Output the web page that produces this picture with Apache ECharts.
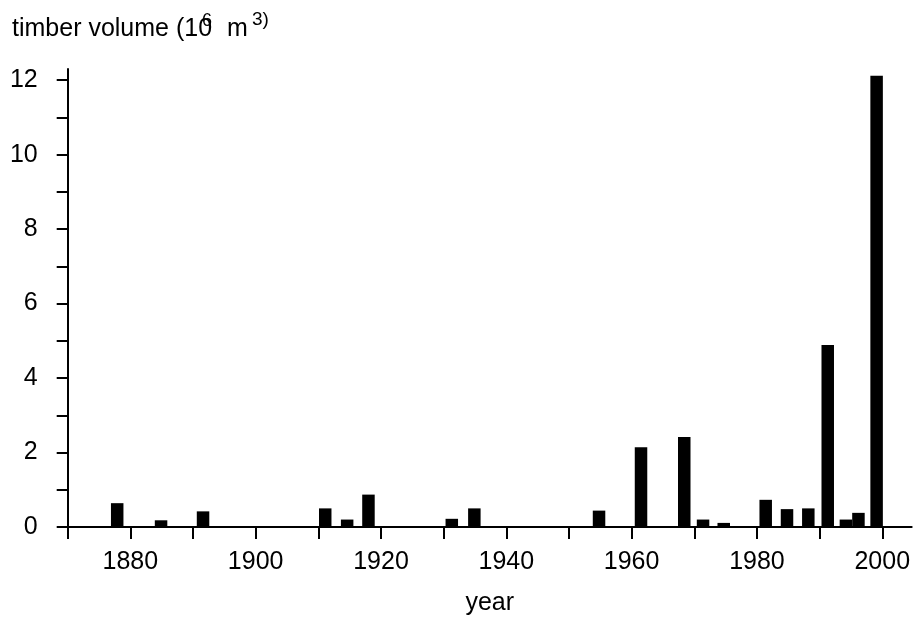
<!DOCTYPE html>
<html>
<head>
<meta charset="utf-8">
<script src="https://cdn.jsdelivr.net/npm/echarts@6/dist/echarts.min.js"></script>
<style>
  html, body { margin: 0; padding: 0; background: #fff; }
  #chart { width: 915px; height: 621px; }
</style>
</head>
<body>
<div id="chart"></div>
<script>
// Storm events: year (bar centre) and timber volume in million m³
const eventYears = [1877.9, 1884.9, 1891.6, 1911.1, 1914.6, 1918.0, 1931.3, 1934.9,
  1954.8, 1961.5, 1968.4, 1971.4, 1974.7, 1981.4, 1984.8, 1988.2, 1991.3, 1994.2, 1996.2, 1999.1];
const timberVolume = [0.64, 0.18, 0.42, 0.50, 0.20, 0.87, 0.22, 0.50,
  0.44, 2.14, 2.42, 0.20, 0.11, 0.73, 0.48, 0.50, 4.89, 0.20, 0.38, 12.12];

// Axis ticks and labels
const xTickValues = [1870, 1880, 1890, 1900, 1910, 1920, 1930, 1940, 1950, 1960, 1970, 1980, 1990, 2000];
const xLabelValues = [1880, 1900, 1920, 1940, 1960, 1980, 2000];
const yTickValues = [0, 1, 2, 3, 4, 5, 6, 7, 8, 9, 10, 11, 12];
const yLabelValues = [0, 2, 4, 6, 8, 10, 12];

const FONT = '"Liberation Sans", Arial, Helvetica, sans-serif';
const chart = echarts.init(document.getElementById('chart'), null, { renderer: 'canvas' });

const axisLine = { show: true, onZero: false, lineStyle: { color: '#000', width: 2 } };
const axisTickStyle = { lineStyle: { color: '#000', width: 2 } };

chart.setOption({
  animation: false,
  backgroundColor: '#fff',
  grid: { left: 67.7, right: 3.3, top: 69, bottom: 93.7, containLabel: false },
  graphic: [
    { type: 'text', left: 12, top: 17,
      style: { text: 'timber volume (10', font: '25px ' + FONT, fill: '#000' } },
    { type: 'text', left: 202, top: 12,
      style: { text: '6', font: '18px ' + FONT, fill: '#000' } },
    { type: 'text', left: 227, top: 17,
      style: { text: 'm', font: '25px ' + FONT, fill: '#000' } },
    { type: 'text', left: 252, top: 10,
      style: { text: '3)', font: '19px ' + FONT, fill: '#000' } }
  ],
  xAxis: {
    type: 'value',
    min: 1870,
    max: 2004.7,
    interval: 10,
    name: 'year',
    nameLocation: 'middle',
    nameGap: 64,
    nameTextStyle: { fontFamily: FONT, fontSize: 25, color: '#000' },
    axisLine: axisLine,
    axisTick: Object.assign({ show: true, length: 12, customValues: xTickValues }, axisTickStyle),
    axisLabel: {
      customValues: xLabelValues,
      formatter: v => String(v),
      margin: 23,
      fontFamily: FONT, fontSize: 25, color: '#000'
    },
    splitLine: { show: false }
  },
  yAxis: {
    type: 'value',
    min: 0,
    max: 12.3,
    interval: 1,
    axisLine: axisLine,
    axisTick: Object.assign({ show: true, length: 11, customValues: yTickValues }, axisTickStyle),
    axisLabel: {
      customValues: yLabelValues,
      formatter: v => String(v),
      margin: 30,
      fontFamily: FONT, fontSize: 25, color: '#000'
    },
    splitLine: { show: false }
  },
  series: [{
    type: 'bar',
    data: eventYears.map((y, i) => [y, timberVolume[i]]),
    barWidth: 12.5,
    itemStyle: { color: '#000' },
    z: 1
  }]
});
</script>
</body>
</html>
